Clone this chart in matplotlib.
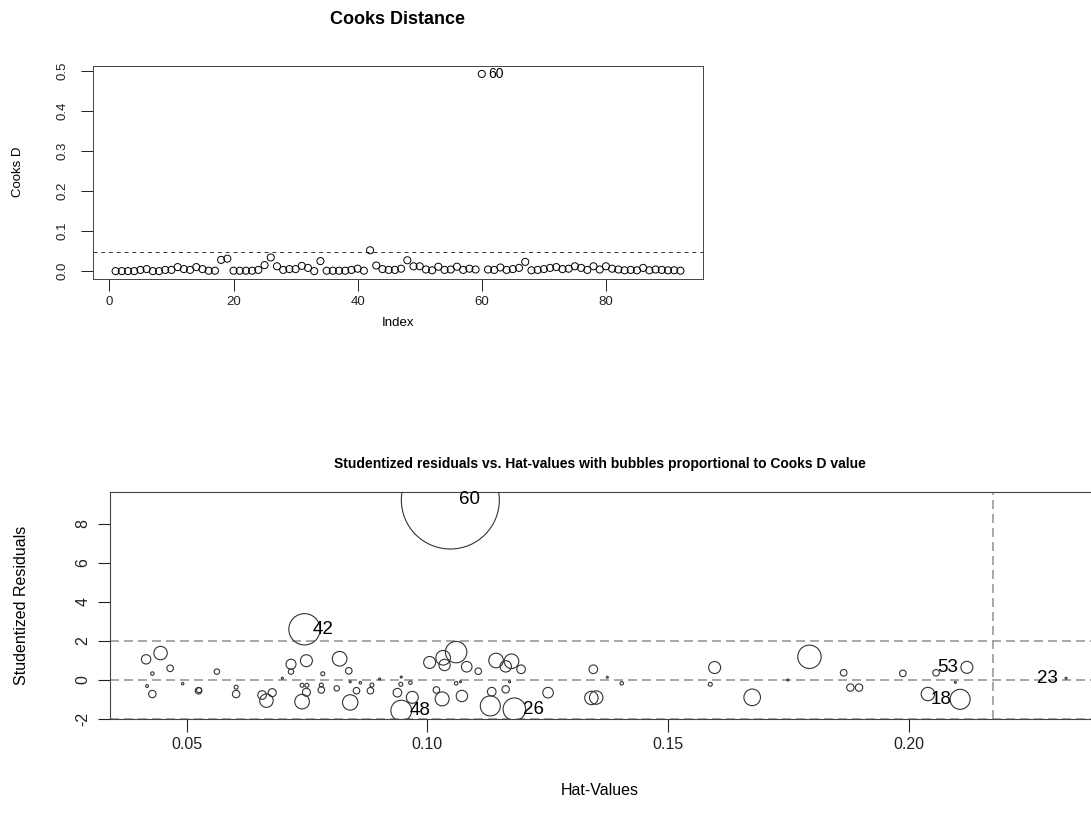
import matplotlib
matplotlib.use('Agg')
import matplotlib.pyplot as plt

plt.rcParams['font.family'] = ['Liberation Sans', 'DejaVu Sans']

W, H = 1091, 821
def fx(x): return x / W
def fy(y): return 1 - y / H

# ---- data: Cook's distance per observation (top panel) ----
cooks = [0.000, 0.000, 0.000, 0.000, 0.003, 0.005, 0.000, 0.000, 0.003, 0.003,
         0.010, 0.005, 0.003, 0.010, 0.005, 0.001, 0.001, 0.028, 0.031, 0.001,
         0.001, 0.001, 0.001, 0.003, 0.015, 0.034, 0.012, 0.003, 0.005, 0.005,
         0.013, 0.008, 0.000, 0.025, 0.001, 0.001, 0.001, 0.001, 0.003, 0.006,
         0.001, 0.052, 0.014, 0.005, 0.003, 0.003, 0.006, 0.027, 0.012, 0.012,
         0.004, 0.002, 0.011, 0.003, 0.004, 0.011, 0.003, 0.006, 0.004, 0.492,
         0.004, 0.003, 0.009, 0.003, 0.005, 0.008, 0.023, 0.002, 0.003, 0.005,
         0.008, 0.010, 0.005, 0.006, 0.012, 0.008, 0.003, 0.012, 0.004, 0.012,
         0.006, 0.004, 0.002, 0.003, 0.002, 0.008, 0.002, 0.004, 0.003, 0.002,
         0.002, 0.001]
index = list(range(1, len(cooks) + 1))
cooks_cut = 0.047

# ---- data: bubble plot (labelled observations first) ----
bubble_ids = ['60', '42', '48', '26', '53', '18', '23']
hat = [0.1048, 0.0745, 0.0946, 0.1181, 0.2121, 0.2107, 0.2327,
       0.0416, 0.0446, 0.0466, 0.0429, 0.0563, 0.0717, 0.0717, 0.0749, 0.0783, 0.0818,
       0.0837, 0.0699, 0.0901, 0.0946, 0.1005, 0.0418, 0.0429, 0.0492, 0.0525, 0.0526,
       0.0603, 0.0603, 0.0657, 0.0666, 0.0678, 0.0740, 0.0750, 0.0749, 0.0740, 0.0780,
       0.0780, 0.0812, 0.0840, 0.0840, 0.0853, 0.0861, 0.0882, 0.0885, 0.0945, 0.0938,
       0.0965, 0.0969, 0.1033, 0.1036, 0.1060, 0.1082, 0.1106, 0.1019, 0.1031, 0.1060,
       0.1069, 0.1072, 0.1134, 0.1131, 0.1143, 0.1163, 0.1175, 0.1195, 0.1163, 0.1171,
       0.1251, 0.1345, 0.1341, 0.1351, 0.1374, 0.1404, 0.1597, 0.1588, 0.1675, 0.1749,
       0.1794, 0.1865, 0.1879, 0.1897, 0.1988, 0.2057, 0.2097, 0.2040]
rstud = [9.23, 2.60, -1.57, -1.50, 0.65, -0.99, 0.09,
         1.06, 1.38, 0.60, 0.33, 0.43, 0.81, 0.43, 0.99, 0.32, 1.09,
         0.47, 0.09, 0.05, 0.15, 0.90, -0.31, -0.72, -0.19, -0.55, -0.52,
         -0.37, -0.72, -0.77, -1.06, -0.65, -0.27, -0.27, -0.63, -1.11, -0.26,
         -0.51, -0.43, -0.09, -1.15, -0.55, -0.14, -0.55, -0.26, -0.22, -0.65,
         -0.14, -0.89, 1.14, 0.77, 1.43, 0.68, 0.45, -0.51, -0.97, -0.17,
         -0.09, -0.82, -0.60, -1.33, 1.00, 0.70, 0.96, 0.55, -0.48, -0.09,
         -0.65, 0.55, -0.92, -0.90, 0.14, -0.17, 0.64, -0.22, -0.89, 0.00,
         1.19, 0.37, -0.39, -0.39, 0.34, 0.37, -0.12, -0.72]
bubble_cooks = [0.490, 0.050, 0.022, 0.026, 0.0073, 0.0204, 0.0002,
                0.0045, 0.0092, 0.0022, 0.0006, 0.0015, 0.0051, 0.0015, 0.0073, 0.0008, 0.0109,
                0.0022, 0.0002, 0.0002, 0.0002, 0.0073, 0.0004, 0.0028, 0.0003, 0.0022, 0.0013,
                0.0008, 0.0028, 0.0038, 0.0092, 0.0033, 0.0008, 0.0008, 0.0033, 0.0109, 0.0008,
                0.0022, 0.0015, 0.0002, 0.0121, 0.0022, 0.0003, 0.0022, 0.0008, 0.0008, 0.0038,
                0.0006, 0.0073, 0.0109, 0.0066, 0.0234, 0.0057, 0.0022, 0.0022, 0.0100, 0.0006,
                0.0002, 0.0066, 0.0038, 0.0204, 0.0109, 0.0066, 0.0109, 0.0038, 0.0028, 0.0002,
                0.0057, 0.0038, 0.0092, 0.0092, 0.0002, 0.0006, 0.0073, 0.0008, 0.0141, 0.0002,
                0.0279, 0.0022, 0.0028, 0.0028, 0.0022, 0.0022, 0.0002, 0.0092]
hat_cut = 0.2175
resid_lines = [-2, 0, 2]

fig = plt.figure(figsize=(W / 100, H / 100), dpi=100)

# ---- top: Cooks distance by index ----
ax1 = fig.add_axes([fx(93), fy(279), fx(703) - fx(93), (279 - 66) / H])
ax1.scatter(index, cooks, s=26, facecolors='none', edgecolors='black', linewidths=0.7, zorder=3)
ax1.axhline(cooks_cut, color='#333333', lw=0.7, ls=(0, (4, 4)))
imax = cooks.index(max(cooks))
ax1.annotate(str(index[imax]), (index[imax], cooks[imax]), xytext=(5, 0),
             textcoords='offset points', ha='left', va='center', fontsize=10)
ax1.set_xlim(-2.64, 95.64)
ax1.set_ylim(-0.0197, 0.5117)
ax1.set_xticks([0, 20, 40, 60, 80])
ax1.set_yticks([0.0, 0.1, 0.2, 0.3, 0.4, 0.5])
ax1.set_yticklabels(['0.0', '0.1', '0.2', '0.3', '0.4', '0.5'], rotation=90, va='center')
ax1.tick_params(length=8.5, width=0.7, labelsize=9.5, colors='#222222')
ax1.tick_params(axis='x', pad=4)
ax1.tick_params(axis='y', pad=9)
for s in ax1.spines.values():
    s.set_linewidth(0.7); s.set_color('#444444')
fig.text(fx(398), fy(19), 'Cooks Distance', ha='center', va='center', fontsize=13, fontweight='bold')
fig.text(fx(398), fy(323), 'Index', ha='center', va='center', fontsize=9.5)
fig.text(fx(18), fy(172), 'Cooks D', ha='center', va='center', fontsize=9.5, rotation=90)

# ---- bottom: studentized residuals vs hat values ----
ax2 = fig.add_axes([fx(110), fy(719), (1093 - 110) / W, (719 - 492) / H])
sizes = [10160 * c for c in bubble_cooks]
ax2.scatter(hat, rstud, s=sizes, facecolors='none', edgecolors='#333333', linewidths=0.8, zorder=3)
for v in resid_lines:
    ax2.axhline(v, color='#999999', lw=1.2, ls=(0, (5.4, 3)), zorder=2)
ax2.axvline(hat_cut, color='#999999', lw=1.2, ls=(0, (5.4, 3)), zorder=2)
xlo, xhi = 0.0341, 0.2383
xmid = (xlo + xhi) / 2
for i, lab in enumerate(bubble_ids):
    right = hat[i] < xmid
    ax2.annotate(lab, (hat[i], rstud[i]), xytext=(6 if right else -6, 0),
                 textcoords='offset points', ha='left' if right else 'right',
                 va='center', fontsize=13.5, zorder=4)
ax2.set_xlim(xlo, xhi)
ax2.set_ylim(-2.0, 9.64)
ax2.set_xticks([0.05, 0.10, 0.15, 0.20])
ax2.set_xticklabels(['0.05', '0.10', '0.15', '0.20'])
ax2.set_yticks([-2, 0, 2, 4, 6, 8])
ax2.set_yticklabels(['-2', '0', '2', '4', '6', '8'], rotation=90, va='center')
ax2.tick_params(length=9, width=0.8, labelsize=11.5, colors='#222222')
ax2.tick_params(axis='x', pad=4)
ax2.tick_params(axis='y', pad=5)
for s in ax2.spines.values():
    s.set_linewidth(0.8); s.set_color('#444444')
fig.text(fx(600), fy(464), 'Studentized residuals vs. Hat-values with bubbles proportional to Cooks D value',
         ha='center', va='center', fontsize=10, fontweight='bold')
fig.text(fx(600), fy(790), 'Hat-Values', ha='center', va='center', fontsize=11.5)
fig.text(fx(22), fy(605), 'Studentized Residuals', ha='center', va='center', fontsize=11.5, rotation=90)

fig.savefig('out.png', dpi=100)
